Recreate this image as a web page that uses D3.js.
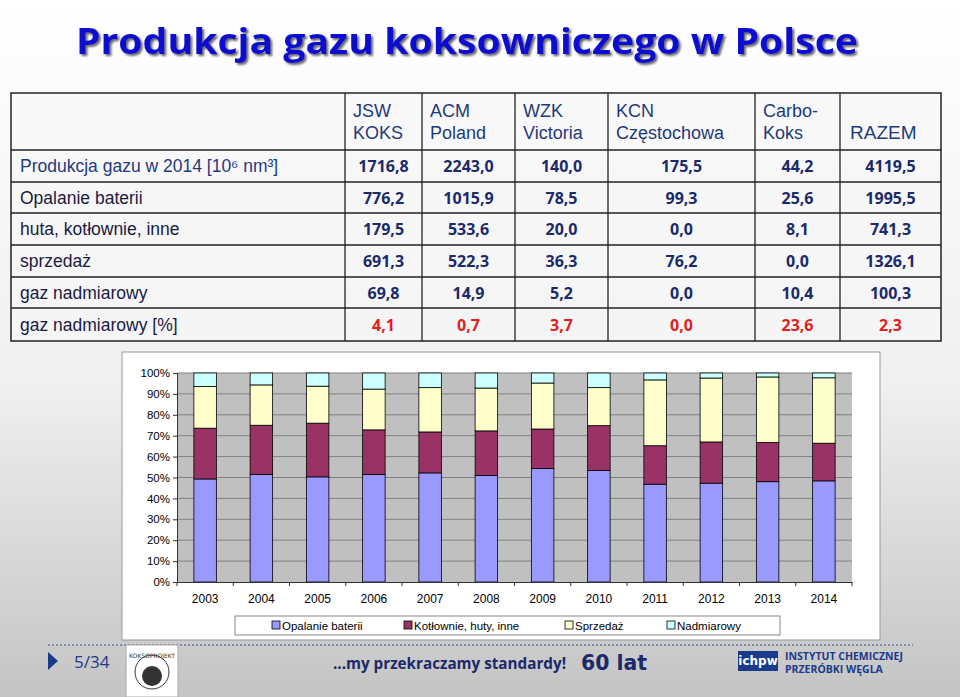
<!DOCTYPE html>
<html><head><meta charset="utf-8">
<script src="https://cdn.jsdelivr.net/npm/d3@7"></script>
<style>
body{margin:0;}
svg{display:block;}
</style></head>
<body>
<svg id="slide" width="960" height="697"></svg>
<script>
const columns = ['JSW\nKOKS', 'ACM\nPoland', 'WZK\nVictoria', 'KCN\nCzęstochowa', 'Carbo-\nKoks', 'RAZEM'];
const rowLabels = ['Produkcja gazu w 2014 [10⁶ nm³]', 'Opalanie baterii', 'huta, kotłownie, inne', 'sprzedaż', 'gaz nadmiarowy', 'gaz nadmiarowy [%]'];
const tableValues = [
    ['1716,8', '2243,0', '140,0', '175,5', '44,2', '4119,5'],
    ['776,2', '1015,9', '78,5', '99,3', '25,6', '1995,5'],
    ['179,5', '533,6', '20,0', '0,0', '8,1', '741,3'],
    ['691,3', '522,3', '36,3', '76,2', '0,0', '1326,1'],
    ['69,8', '14,9', '5,2', '0,0', '10,4', '100,3'],
    ['4,1', '0,7', '3,7', '0,0', '23,6', '2,3']
];

const years = ['2003', '2004', '2005', '2006', '2007', '2008', '2009', '2010', '2011', '2012', '2013', '2014'];
const series = ['Opalanie baterii', 'Kotłownie, huty, inne', 'Sprzedaż', 'Nadmiarowy'];
const opalanie = [49.3, 51.5, 50.3, 51.5, 52.2, 51.0, 54.3, 53.4, 46.8, 47.3, 48.0, 48.4];
const kotlownie = [24.3, 23.5, 25.7, 21.3, 19.6, 21.3, 18.9, 21.4, 18.4, 19.7, 18.8, 18.0];
const sprzedaz = [19.9, 19.3, 17.7, 19.5, 21.2, 20.5, 22.0, 18.2, 31.5, 30.6, 31.3, 31.3];
const nadmiarowy = [6.5, 5.7, 6.3, 7.7, 7.0, 7.2, 4.8, 7.0, 3.3, 2.4, 1.9, 2.3];
const colors = ['#9999ff', '#993366', '#ffffcc', '#ccffff'];

const svg = d3.select('#slide');

// ---- tło
const defs = svg.append('defs');
const bg = defs.append('linearGradient').attr('id', 'bg').attr('x1', 0).attr('y1', 0).attr('x2', 0).attr('y2', 1);
bg.append('stop').attr('offset', '0%').attr('stop-color', '#ffffff');
bg.append('stop').attr('offset', '55%').attr('stop-color', '#f0f0f0');
bg.append('stop').attr('offset', '100%').attr('stop-color', '#c4c4c4');
const sh = defs.append('filter').attr('id', 'shadow');
sh.append('feDropShadow').attr('dx', 2).attr('dy', 2).attr('stdDeviation', 1.2).attr('flood-color', '#666');
svg.append('rect').attr('width', 960).attr('height', 697).attr('fill', 'url(#bg)');

svg.append('text')
    .attr('x', 76).attr('y', 54)
    .attr('font-family', 'Open Sans').attr('font-weight', 'bold').attr('font-size', '36px')
    .attr('fill', '#0a0ad0').attr('filter', 'url(#shadow)')
    .attr('textLength', 782).attr('lengthAdjust', 'spacingAndGlyphs')
    .text('Produkcja gazu koksowniczego w Polsce');

// ---- tabela
const colX = [11, 345, 422, 515, 608, 755, 840, 941];
const rowY = [93, 150, 182, 213, 245, 277, 308, 341];
const table = svg.append('g');

table.append('rect').attr('x', colX[0]).attr('y', rowY[0])
    .attr('width', colX[7] - colX[0]).attr('height', rowY[7] - rowY[0])
    .attr('fill', '#f7f7f7').attr('fill-opacity', 0.6).attr('stroke', '#222').attr('stroke-width', 1.5);
colX.slice(1, -1).forEach(x => table.append('line').attr('x1', x).attr('x2', x)
    .attr('y1', rowY[0]).attr('y2', rowY[7]).attr('stroke', '#222').attr('stroke-width', 1.3));
rowY.slice(1, -1).forEach(y => table.append('line').attr('x1', colX[0]).attr('x2', colX[7])
    .attr('y1', y).attr('y2', y).attr('stroke', '#222').attr('stroke-width', 1.3));

columns.forEach((c, i) => {
    const lines = c.split('\n');
    const t = table.append('text')
        .attr('font-family', 'Liberation Sans, Arial').attr('font-size', '18px').attr('fill', '#1f3a7a');
    if (i === 5) {
        t.attr('x', colX[i + 1] + 10).attr('y', 139).attr('font-size', '19px').text(c);
    } else {
        lines.forEach((l, j) => t.append('tspan')
            .attr('x', colX[i + 1] + 8).attr('y', 117 + j * 22).text(l));
    }
});

rowLabels.forEach((r, i) => {
    table.append('text')
        .attr('x', 20).attr('y', (rowY[i + 1] + rowY[i + 2]) / 2 + 6)
        .attr('font-family', 'Liberation Sans, Arial').attr('font-size', '17.5px')
        .attr('fill', i === 0 ? '#1f3a80' : '#1a1a40')
        .text(r);
    tableValues[i].forEach((v, j) => {
        table.append('text')
            .attr('x', (colX[j + 1] + colX[j + 2]) / 2).attr('y', (rowY[i + 1] + rowY[i + 2]) / 2 + 6)
            .attr('text-anchor', 'middle')
            .attr('font-family', 'Open Sans').attr('font-weight', 'bold').attr('font-size', '16px')
            .attr('fill', i === 5 ? '#e02020' : '#1a2a6a')
            .text(v);
    });
});

// ---- wykres
svg.append('rect').attr('x', 122).attr('y', 352).attr('width', 758).attr('height', 288)
    .attr('fill', 'white').attr('stroke', '#999');

const margens = { left: 177, right: 852, top: 373, bottom: 582 };
const x = d3.scaleBand().domain(years).range([margens.left, margens.right]).paddingInner(0.6).paddingOuter(0.3);
const y = d3.scaleLinear().domain([0, 100]).range([margens.bottom, margens.top]);

const chart = svg.append('g');
chart.append('rect').attr('x', margens.left).attr('y', margens.top)
    .attr('width', margens.right - margens.left).attr('height', margens.bottom - margens.top)
    .attr('fill', '#c0c0c0');
chart.selectAll('.grid').data(d3.range(10, 101, 10)).join('line')
    .attr('x1', margens.left).attr('x2', margens.right)
    .attr('y1', d => y(d)).attr('y2', d => y(d)).attr('stroke', '#808080');

const table2 = years.map((yr, i) => ({ year: yr, 0: opalanie[i], 1: kotlownie[i], 2: sprzedaz[i], 3: nadmiarowy[i] }));
const stack = d3.stack().keys([0, 1, 2, 3]).offset(d3.stackOffsetExpand)(table2);

chart.selectAll('.layer').data(stack).join('g')
    .attr('fill', (d, i) => colors[i])
    .selectAll('rect').data(d => d).join('rect')
    .attr('x', d => x(d.data.year))
    .attr('width', x.bandwidth())
    .attr('y', d => y(d[1] * 100))
    .attr('height', d => y(d[0] * 100) - y(d[1] * 100))
    .attr('stroke', '#000').attr('stroke-width', 0.8);

chart.append('g')
    .attr('transform', `translate(${margens.left},0)`)
    .call(d3.axisLeft(y).ticks(10).tickFormat(d => d + '%').tickSize(4))
    .call(g => g.selectAll('text').attr('font-family', 'Liberation Sans, Arial').attr('font-size', '11.5px').attr('fill', '#000'))
    .call(g => g.selectAll('path,line').attr('stroke', '#333'));

chart.append('g')
    .attr('transform', `translate(0,${margens.bottom})`)
    .call(d3.axisBottom(x).tickSize(0).tickPadding(12))
    .call(g => g.selectAll('text').attr('font-family', 'Liberation Sans, Arial').attr('font-size', '12px').attr('fill', '#000'))
    .call(g => g.selectAll('path').attr('stroke', '#333'));
chart.selectAll('.xt').data(years.concat(['end'])).join('line')
    .attr('x1', (d, i) => margens.left + i * (margens.right - margens.left) / 12)
    .attr('x2', (d, i) => margens.left + i * (margens.right - margens.left) / 12)
    .attr('y1', margens.bottom).attr('y2', margens.bottom + 4).attr('stroke', '#333');

// ---- legenda
const legend = svg.append('g');
legend.append('rect').attr('x', 235).attr('y', 616).attr('width', 545).attr('height', 19)
    .attr('fill', 'white').attr('stroke', '#888');
const legX = [272, 404, 565, 667];
series.forEach((s, i) => {
    legend.append('rect').attr('x', legX[i]).attr('y', 621).attr('width', 8).attr('height', 8)
        .attr('fill', colors[i]).attr('stroke', '#000').attr('stroke-width', 0.8);
    legend.append('text').attr('x', legX[i] + 10).attr('y', 630)
        .attr('font-family', 'Liberation Sans, Arial').attr('font-size', '11.5px').text(s);
});

// ---- stopka
svg.append('line').attr('x1', 48).attr('x2', 913).attr('y1', 645).attr('y2', 645)
    .attr('stroke', '#6a7a9a').attr('stroke-dasharray', '2,2').attr('stroke-width', 1.5);
svg.append('path').attr('d', 'M48,652 L58,661 L48,670 Z').attr('fill', '#1a3a8a');
svg.append('text').attr('x', 74).attr('y', 668).attr('font-family', 'Open Sans').attr('font-size', '17px')
    .attr('fill', '#1a3a8a').text('5/34');
svg.append('rect').attr('x', 126).attr('y', 645).attr('width', 52).attr('height', 52).attr('fill', 'white').attr('stroke', '#aaa');
svg.append('circle').attr('cx', 152).attr('cy', 672).attr('r', 17).attr('fill', 'none').attr('stroke', '#333').attr('stroke-width', 1);
svg.append('circle').attr('cx', 152).attr('cy', 676).attr('r', 10).attr('fill', '#333');
svg.append('text').attr('x', 152).attr('y', 658).attr('text-anchor', 'middle').attr('font-family', 'DejaVu Sans')
    .attr('font-size', '6px').attr('fill', '#333').text('KOKSOPROJEKT');
svg.append('text').attr('x', 333).attr('y', 669).attr('font-family', 'Open Sans').attr('font-weight', 'bold')
    .attr('font-size', '16px').attr('fill', '#1a2a6a')
    .attr('textLength', 233).attr('lengthAdjust', 'spacingAndGlyphs').text('...my przekraczamy standardy!');
svg.append('text').attr('x', 581).attr('y', 670).attr('font-family', 'DejaVu Sans').attr('font-weight', 'bold')
    .attr('font-size', '21px').attr('fill', '#1a2a6a')
    .attr('textLength', 66).attr('lengthAdjust', 'spacingAndGlyphs').text('60 lat');
svg.append('rect').attr('x', 738).attr('y', 651).attr('width', 40).attr('height', 20).attr('fill', '#1a3a8a');
svg.append('text').attr('x', 758).attr('y', 665).attr('text-anchor', 'middle').attr('font-family', 'DejaVu Sans')
    .attr('font-weight', 'bold').attr('font-size', '12px').attr('fill', 'white').text('ichpw');
svg.append('text').attr('x', 785).attr('y', 660).attr('font-family', 'Open Sans').attr('font-weight', 'bold')
    .attr('font-size', '10.5px').attr('fill', '#1a3a8a').text('INSTYTUT CHEMICZNEJ');
svg.append('text').attr('x', 785).attr('y', 673).attr('font-family', 'Open Sans').attr('font-weight', 'bold')
    .attr('font-size', '10.5px').attr('fill', '#1a3a8a').text('PRZERÓBKI WĘGLA');
</script>
</body></html>
